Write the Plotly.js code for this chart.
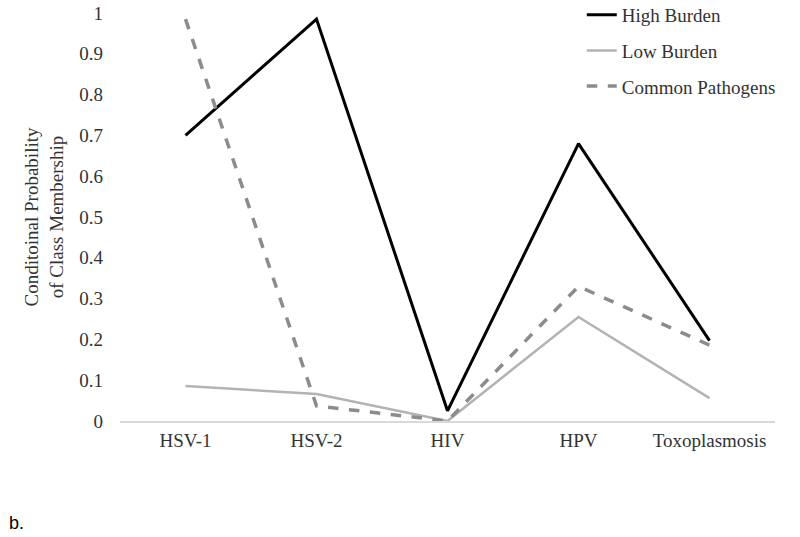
<!DOCTYPE html>
<html>
<head>
<meta charset="utf-8">
<script src="https://cdn.plot.ly/plotly-3.0.1.min.js"></script>
<style>
  body { margin: 0; background: #fff; }
  #chart { width: 800px; height: 537px; }
</style>
</head>
<body>
<div id="chart"></div>
<script>
// Categories and series
const pathogens = ['HSV-1', 'HSV-2', 'HIV', 'HPV', 'Toxoplasmosis'];
const highBurden = [0.70, 0.985, 0.025, 0.68, 0.197];
const lowBurden = [0.086, 0.066, 0.0, 0.255, 0.056];
const commonPathogens = [0.985, 0.037, 0.0, 0.33, 0.186];
const yTicks = [0, 0.1, 0.2, 0.3, 0.4, 0.5, 0.6, 0.7, 0.8, 0.9, 1];

const serif = '"Liberation Serif", "Times New Roman", serif';
const textColor = '#333333';

const traces = [
    {
        x: pathogens, y: highBurden, name: 'High Burden', legendgroup: 'a',
        type: 'scatter', mode: 'lines',
        line: { color: '#000000', width: 3 }
    },
    {
        x: pathogens, y: lowBurden, name: 'Low Burden', legendgroup: 'b',
        type: 'scatter', mode: 'lines',
        line: { color: '#b3b3b3', width: 2.5 }
    },
    {
        x: pathogens, y: commonPathogens, name: 'Common Pathogens', legendgroup: 'c',
        type: 'scatter', mode: 'lines',
        line: { color: '#8c8c8c', width: 3.5, dash: 'dash' }
    }
];

const layout = {
    width: 800,
    height: 537,
    margin: { l: 120, r: 25, t: 13, b: 116, autoexpand: false },
    paper_bgcolor: '#ffffff',
    plot_bgcolor: '#ffffff',
    font: { family: serif, size: 19, color: textColor },
    showlegend: true,
    legend: {
        x: 0.705, y: 1.042, xanchor: 'left', yanchor: 'top',
        font: { family: serif, size: 19, color: textColor },
        tracegroupgap: 8, itemwidth: 30,
        bgcolor: 'rgba(0,0,0,0)'
    },
    xaxis: {
        type: 'category',
        range: [-0.5, 4.5],
        showgrid: false,
        zeroline: false,
        showline: true,
        linecolor: '#d9d9d9',
        linewidth: 1.5,
        ticks: '',
        ticklabelstandoff: 2,
        tickfont: { family: serif, size: 19, color: textColor }
    },
    yaxis: {
        range: [0, 1],
        tickvals: yTicks,
        ticktext: yTicks.map(String),
        showgrid: false,
        zeroline: false,
        showline: false,
        ticks: '',
        ticklabelstandoff: 16,
        tickfont: { family: serif, size: 19, color: textColor },
        title: {
            text: 'Conditoinal Probability<br>of Class Membership',
            font: { family: serif, size: 19, color: textColor },
            standoff: 10
        }
    },
    annotations: [
        {
            text: 'b.', xref: 'paper', yref: 'paper',
            x: -0.172, y: -0.25, xanchor: 'left', yanchor: 'middle',
            showarrow: false,
            font: { family: 'Liberation Sans, Arial, sans-serif', size: 18, color: '#000000' }
        }
    ]
};

Plotly.newPlot('chart', traces, layout, { displayModeBar: false, staticPlot: true });
</script>
</body>
</html>
